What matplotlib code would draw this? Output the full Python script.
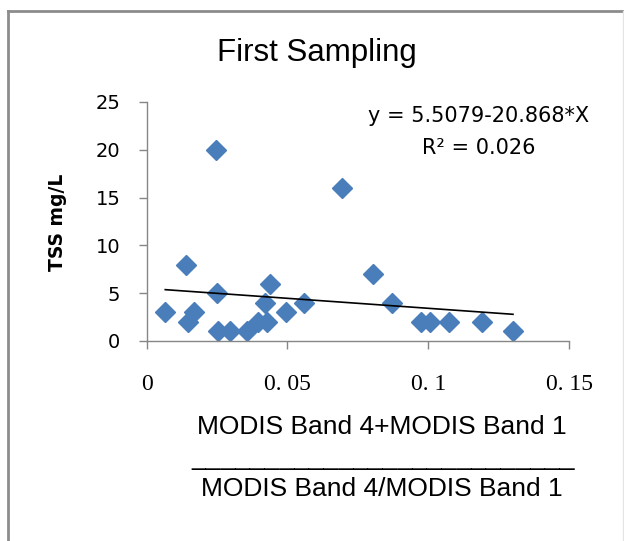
import numpy as np
import matplotlib
matplotlib.use("Agg")
from matplotlib import pyplot as plt
from matplotlib.lines import Line2D

# Data
ratio = [0.0066, 0.0138, 0.0148, 0.0169, 0.0247, 0.0251, 0.0254, 0.0296,
         0.0355, 0.0396, 0.0420, 0.0426, 0.0438, 0.0494, 0.0558, 0.0694,
         0.0804, 0.0870, 0.0976, 0.1008, 0.1074, 0.1191, 0.1301]
tss = [3, 8, 2, 3, 20, 5, 1, 1, 1, 2, 4, 2, 6, 3, 4, 16, 7, 4, 2, 2, 2, 2, 1]
intercept = 5.5079
slope = -20.868
r2 = 0.026
xticks = [0, 0.05, 0.1, 0.15]
xtick_labels = ['0', '0. 05', '0. 1', '0. 15']
yticks = [0, 5, 10, 15, 20, 25]

W, H = 624, 541
fig = plt.figure(figsize=(W / 100, H / 100), dpi=100)
ax = fig.add_axes([146.7 / W, 1 - 341 / H, (569 - 146.7) / W, (341 - 102) / H])

ax.plot(ratio, tss, 'D', color='#4a7ebb', markersize=10, markeredgecolor='#4a7ebb')
xs = np.array([min(ratio), max(ratio)])
ax.plot(xs, intercept + slope * xs, color='black', lw=1.2)

ax.set_xlim(0, 0.15)
ax.set_ylim(0, 25)
ax.set_xticks(xticks)
ax.set_xticklabels(xtick_labels, family='Liberation Serif', fontsize=17)
ax.set_yticks(yticks)
ax.set_yticklabels([str(v) for v in yticks], family='DejaVu Sans', fontsize=14)
ax.tick_params(axis='x', direction='out', length=6, width=1, color='#868686', pad=18)
ax.tick_params(axis='y', direction='out', length=6, width=1, color='#868686', pad=13)
for s in ['top', 'right']:
    ax.spines[s].set_visible(False)
for s in ['left', 'bottom']:
    ax.spines[s].set_color('#868686')
    ax.spines[s].set_linewidth(1)

fig.text(57.5 / W, 1 - 222 / H, 'TSS mg/L', family='DejaVu Sans', fontweight='bold',
         fontsize=13.5, rotation=90, ha='center', va='center')

fig.text(317 / W, 1 - 61 / H, 'First Sampling', family='Liberation Sans',
         fontsize=22.5, ha='center', va='baseline')
fig.text(479 / W, 1 - 116 / H, 'y = 5.5079-20.868*X', family='DejaVu Sans',
         fontsize=15, ha='center', va='center')
fig.text(479 / W, 1 - 148 / H, 'R² = %.3f' % r2, family='DejaVu Sans',
         fontsize=15, ha='center', va='center')

fig.text(382 / W, 1 - 427 / H, 'MODIS Band 4+MODIS Band 1', family='Liberation Sans',
         fontsize=19, ha='center', va='center')
fig.text(383 / W, 1 - 458 / H, '_' * 26, family='Liberation Sans',
         fontsize=19, ha='center', va='center')
fig.text(382 / W, 1 - 489 / H, 'MODIS Band 4/MODIS Band 1', family='Liberation Sans',
         fontsize=19, ha='center', va='center')

# chart frame
fig.add_artist(Line2D([8 / W, 8 / W], [0, 1 - 11 / H], color='#8c8c8c', lw=2,
                      transform=fig.transFigure))
fig.add_artist(Line2D([8 / W, 1], [1 - 11 / H, 1 - 11 / H], color='#8c8c8c', lw=2,
                      transform=fig.transFigure))
fig.add_artist(Line2D([623 / W, 623 / W], [0, 1 - 11 / H], color='#e4e4e4', lw=1,
                      transform=fig.transFigure))

fig.savefig('out.png', dpi=100)
